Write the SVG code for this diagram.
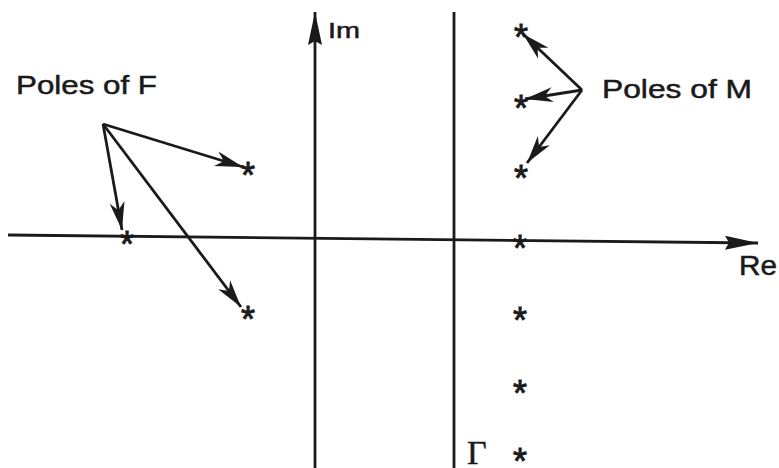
<svg xmlns="http://www.w3.org/2000/svg" width="779" height="468" viewBox="0 0 779 468">
<style>
.ln{stroke:#1a1a1a;stroke-width:2.8;fill:none}
.ax{stroke:#1a1a1a;stroke-width:2.8;fill:none}
.lbl{font-family:"Liberation Sans",Arial,sans-serif;fill:#1a1a1a;stroke:#1a1a1a;stroke-width:0.5}
.star{font-family:"Liberation Sans",Arial,sans-serif;font-size:36px;fill:#1a1a1a;stroke:#1a1a1a;stroke-width:0.9;text-anchor:middle}
.gam{font-family:"Liberation Serif","Times New Roman",serif;font-size:34px;fill:#1a1a1a;stroke:#1a1a1a;stroke-width:0.4}
</style>
<defs>
<marker id="ptr" markerUnits="userSpaceOnUse" markerWidth="32" markerHeight="18" viewBox="-28 -9 30 18" refX="0" refY="0" orient="auto">
<path d="M0,0 L-28,-7.5 L-20,0 L-28,7.5 Z" fill="#1a1a1a"/>
</marker>
<marker id="axh" markerUnits="userSpaceOnUse" markerWidth="36" markerHeight="18" viewBox="-33 -9 35 18" refX="0" refY="0" orient="auto">
<path d="M0,0 L-33,-7 L-29,0 L-33,7 Z" fill="#1a1a1a"/>
</marker>
</defs>
<rect width="779" height="468" fill="#ffffff"/>
<g id="axes">
<line id="re-axis" class="ax" x1="8" y1="235" x2="758" y2="243" marker-end="url(#axh)"/>
<line id="im-axis" class="ax" x1="315" y1="468" x2="315" y2="12" marker-end="url(#axh)"/>
<line id="gamma-line" class="ax" x1="454" y1="468" x2="454" y2="12"/>
</g>
<g id="label-im"><text class="lbl" x="328" y="38" font-size="22" textLength="32" lengthAdjust="spacingAndGlyphs">Im</text></g>
<g id="label-re"><text class="lbl" x="739" y="275" font-size="28" textLength="38" lengthAdjust="spacingAndGlyphs">Re</text></g>
<g id="label-gamma"><text class="gam" x="467" y="464">Γ</text></g>
<g id="label-poles-f"><text class="lbl" x="16" y="94" font-size="26" textLength="141" lengthAdjust="spacingAndGlyphs">Poles of F</text></g>
<g id="label-poles-m"><text class="lbl" x="602" y="98" font-size="26" textLength="150" lengthAdjust="spacingAndGlyphs">Poles of M</text></g>
<g id="poles-f">
<text class="star" x="248" y="188">*</text>
<text class="star" x="127" y="257">*</text>
<text class="star" x="248" y="332">*</text>
</g>
<g id="poles-m">
<text class="star" x="521" y="50">*</text>
<text class="star" x="521" y="121">*</text>
<text class="star" x="521" y="191">*</text>
<text class="star" x="520" y="261">*</text>
<text class="star" x="520" y="333">*</text>
<text class="star" x="520" y="406">*</text>
<text class="star" x="520" y="474">*</text>
</g>
<g id="connectors">
<line class="ln" x1="103" y1="124" x2="243" y2="167" marker-end="url(#ptr)"/>
<line class="ln" x1="103" y1="124" x2="122" y2="230" marker-end="url(#ptr)"/>
<line class="ln" x1="103" y1="124" x2="241" y2="307" marker-end="url(#ptr)"/>
<line class="ln" x1="582" y1="90" x2="523" y2="34" marker-end="url(#ptr)"/>
<line class="ln" x1="582" y1="90" x2="525" y2="99" marker-end="url(#ptr)"/>
<line class="ln" x1="582" y1="90" x2="527" y2="163" marker-end="url(#ptr)"/>
</g>
</svg>
